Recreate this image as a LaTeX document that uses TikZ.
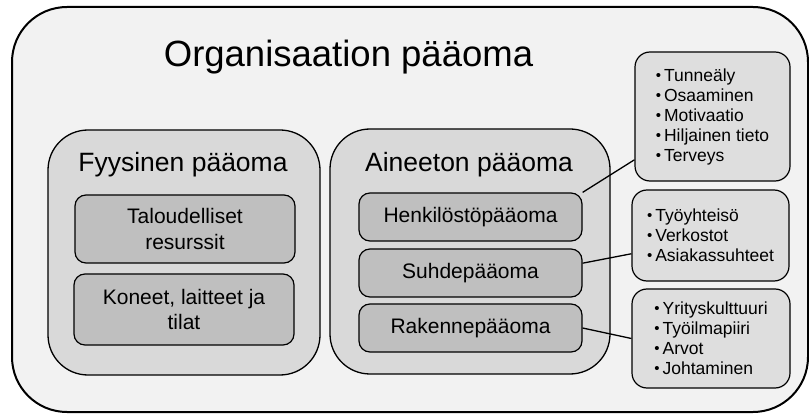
\documentclass[tikz,border=0pt]{standalone}
\usepackage{fontspec}
\setmainfont{Liberation Sans}
\definecolor{outerfill}{HTML}{F2F2F2}
\definecolor{groupfill}{HTML}{D9D9D9}
\definecolor{itemfill}{HTML}{BFBFBF}
\definecolor{listfill}{HTML}{DEDEDE}
\newcommand{\listdot}{\raisebox{1pt}{\fontsize{15}{15}\selectfont•}\hspace{3pt}}
\begin{document}
\begin{tikzpicture}[x=1pt, y=-1pt,
    group/.style={draw, line width=1.3pt, fill=groupfill, rounded corners=40pt,
        minimum height=245pt},
    item/.style={draw, line width=1.2pt, fill=itemfill, rounded corners=11pt,
        align=center, font=\fontsize{21}{25.5}\selectfont},
    list/.style={draw, line width=1.2pt, fill=listfill, rounded corners=15pt,
        align=left, font=\fontsize{17.5}{20}\selectfont},
    heading/.style={anchor=base, inner sep=0pt, font=\fontsize{26.5}{30}\selectfont}]
    \useasboundingbox (0, 0) rectangle (809, 414);
    % outer frame
    \node[draw, line width=2pt, fill=outerfill, rounded corners=55pt,
        minimum width=796pt, minimum height=405pt] (org) at (410, 209.5) {};
    \node[anchor=base, inner sep=0pt, font=\fontsize{36.5}{40}\selectfont] (orgtitle)
        at (348.5, 67) {Organisaation pääoma};
    % physical capital
    \node[group, minimum width=272pt] (fyys) at (184, 252.5) {};
    \node[heading] (fyystitle) at (183, 172) {Fyysinen pääoma};
    \node[item, minimum width=220pt, minimum height=68pt] (talous) at (185, 229)
        {Taloudelliset\\resurssit};
    \node[item, minimum width=220pt, minimum height=71pt] (koneet) at (184, 309.5)
        {Koneet, laitteet ja\\tilat};
    % intangible capital
    \node[group, minimum width=280pt] (aineeton) at (470, 251.5) {};
    \node[heading] (ainetitle) at (469, 172) {Aineeton pääoma};
    \node[item, minimum width=223pt, minimum height=48pt] (henk) at (470.5, 217) {Henkilöstöpääoma};
    \node[item, minimum width=223pt, minimum height=48pt] (suhde) at (470.5, 273) {Suhdepääoma};
    \node[item, minimum width=223pt, minimum height=48pt] (rakenne) at (470.5, 328) {Rakennepääoma};
    % lists
    \node[list, minimum width=155pt, minimum height=129pt] (tunne) at (712.5, 116.5)
        {\listdot Tunneäly\\\listdot Osaaminen\\\listdot Motivaatio\\\listdot Hiljainen tieto\\\listdot Terveys};
    \node[list, minimum width=157pt, minimum height=91pt] (yhteiso) at (710.5, 235.5)
        {\listdot Työyhteisö\\\listdot Verkostot\\\listdot Asiakassuhteet};
    \node[list, minimum width=158pt, minimum height=99pt] (kulttuuri) at (711, 338.5)
        {\listdot Yrityskulttuuri\\\listdot Työilmapiiri\\\listdot Arvot\\\listdot Johtaminen};
    \draw[line width=1.3pt] (henk.north east) -- (tunne.209);
    \draw[line width=1.3pt] (suhde.5) -- (yhteiso.193);
    \draw[line width=1.3pt] (rakenne.east) -- (kulttuuri.west);
\end{tikzpicture}
\end{document}
